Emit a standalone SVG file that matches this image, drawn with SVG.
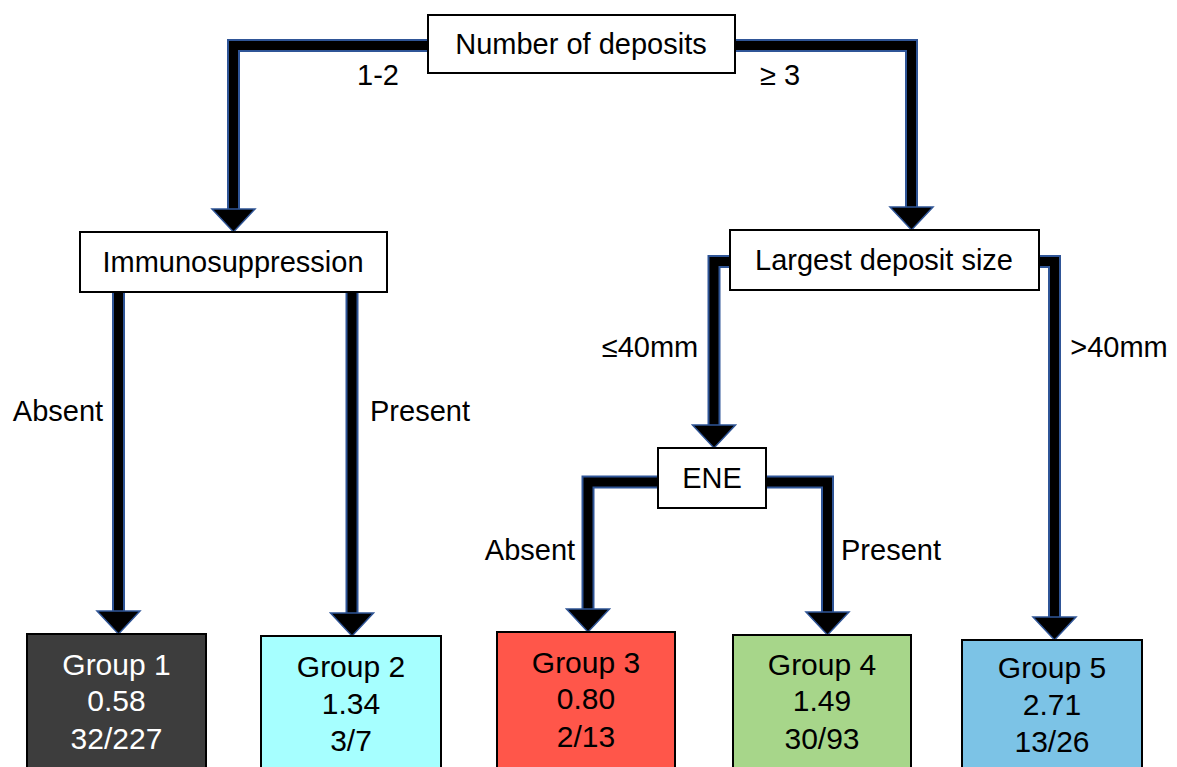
<svg xmlns="http://www.w3.org/2000/svg" width="1177" height="767" viewBox="0 0 1177 767">
<style>
text{font-family:"Liberation Sans",Arial,Helvetica,sans-serif;font-size:29px;fill:#000;text-anchor:middle}
.grp text{font-size:30px}
.box{fill:#fff;stroke:#000;stroke-width:2}
.g{stroke:#000;stroke-width:2}
.edgeB{fill:none;stroke:#2f5597;stroke-width:13;stroke-linejoin:miter;stroke-linecap:butt}
.edgeK{fill:none;stroke:#000;stroke-width:9;stroke-linejoin:miter;stroke-linecap:butt}
.head{fill:#000;stroke:#2f5597;stroke-width:1.5;stroke-linejoin:miter}
.w{fill:#fff}
</style>
<rect width="1177" height="767" fill="#fff"/>
<g id="connectors">
<path class="edgeB" d="M428,45.5H233.5V211"/>
<path class="edgeK" d="M428,45.5H233.5V211"/>
<polygon class="head" points="212,209 255,209 233.5,232"/>
<path class="edgeB" d="M735,45.5H911.5V209"/>
<path class="edgeK" d="M735,45.5H911.5V209"/>
<polygon class="head" points="890,207 933,207 911.5,230"/>
<path class="edgeB" d="M118.5,292V613"/>
<path class="edgeK" d="M118.5,292V613"/>
<polygon class="head" points="97,611 140,611 118.5,634"/>
<path class="edgeB" d="M352,292V615"/>
<path class="edgeK" d="M352,292V615"/>
<polygon class="head" points="330.5,613 373.5,613 352,636"/>
<path class="edgeB" d="M730,261.5H714V427"/>
<path class="edgeK" d="M730,261.5H714V427"/>
<polygon class="head" points="692.5,425 735.5,425 714,448"/>
<path class="edgeB" d="M1039,261.5H1054.5V619"/>
<path class="edgeK" d="M1039,261.5H1054.5V619"/>
<polygon class="head" points="1033,617 1076,617 1054.5,640"/>
<path class="edgeB" d="M658,482H588V611"/>
<path class="edgeK" d="M658,482H588V611"/>
<polygon class="head" points="566.5,609 609.5,609 588,632"/>
<path class="edgeB" d="M766,482H827.5V614"/>
<path class="edgeK" d="M766,482H827.5V614"/>
<polygon class="head" points="806,612 849,612 827.5,635"/>
</g>
<g id="edge-labels">
<text x="378" y="85">1-2</text>
<text x="780" y="85">≥ 3</text>
<text x="58" y="421">Absent</text>
<text x="420" y="421">Present</text>
<text x="650" y="357">≤40mm</text>
<text x="1119" y="357">&gt;40mm</text>
<text x="530" y="560">Absent</text>
<text x="891" y="560">Present</text>
</g>
<g id="n-deposits">
<rect class="box" x="428" y="15" width="307" height="58"/>
<text x="581" y="54">Number of deposits</text>
</g>
<g id="n-immuno">
<rect class="box" x="80" y="232" width="307" height="60"/>
<text x="233" y="272">Immunosuppression</text>
</g>
<g id="n-largest">
<rect class="box" x="730" y="230" width="309" height="60"/>
<text x="884" y="270">Largest deposit size</text>
</g>
<g id="n-ene">
<rect class="box" x="658" y="448" width="108" height="60"/>
<text x="712" y="488">ENE</text>
</g>
<g id="group1" class="grp">
<rect class="g" x="27" y="634" width="179" height="140" fill="#3d3d3d"/>
<text class="w" x="116.5" y="675">Group 1</text>
<text class="w" x="116.5" y="711">0.58</text>
<text class="w" x="116.5" y="749">32/227</text>
</g>
<g id="group2" class="grp">
<rect class="g" x="261" y="636" width="180" height="140" fill="#a6ffff"/>
<text x="351" y="677">Group 2</text>
<text x="351" y="714">1.34</text>
<text x="351" y="751">3/7</text>
</g>
<g id="group3" class="grp">
<rect class="g" x="497" y="632" width="178" height="140" fill="#ff564a"/>
<text x="586" y="673">Group 3</text>
<text x="586" y="709">0.80</text>
<text x="586" y="747">2/13</text>
</g>
<g id="group4" class="grp">
<rect class="g" x="733" y="635" width="178" height="140" fill="#a7d68a"/>
<text x="822" y="675">Group 4</text>
<text x="822" y="711">1.49</text>
<text x="822" y="749">30/93</text>
</g>
<g id="group5" class="grp">
<rect class="g" x="962" y="640" width="180" height="140" fill="#7cc3e6"/>
<text x="1052" y="678">Group 5</text>
<text x="1052" y="715">2.71</text>
<text x="1052" y="752">13/26</text>
</g>
</svg>
